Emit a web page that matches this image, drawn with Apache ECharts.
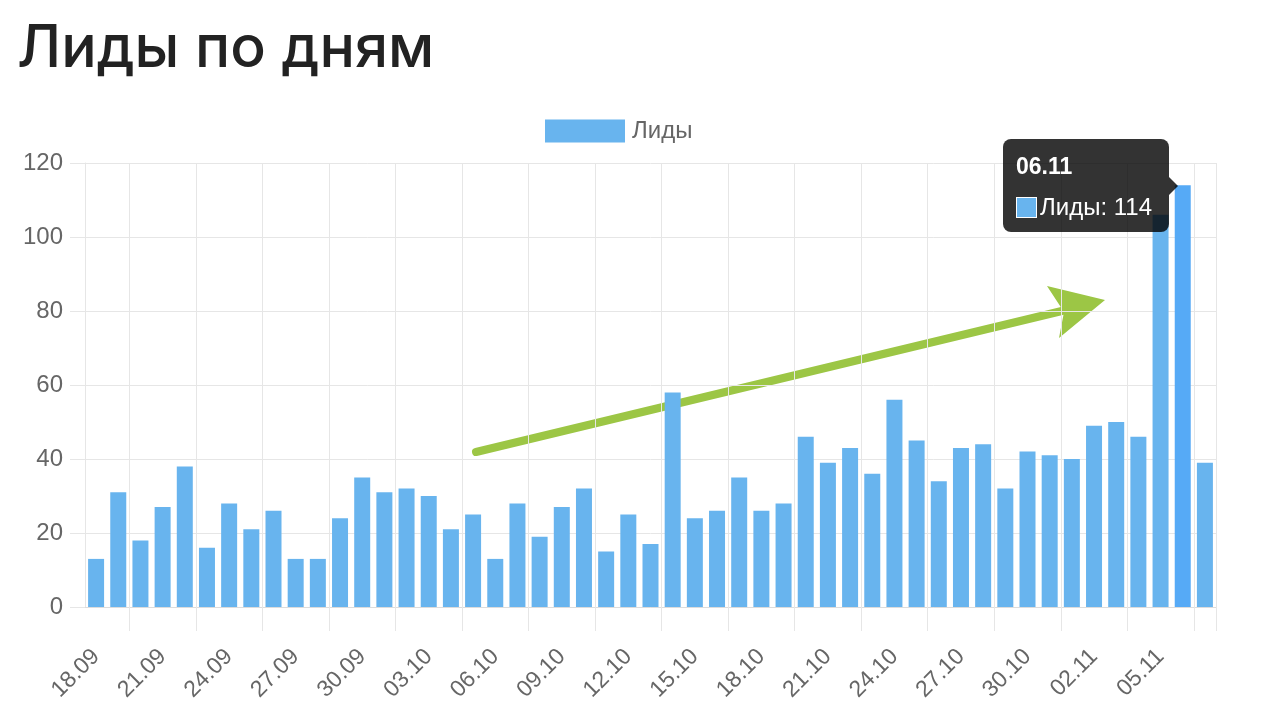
<!DOCTYPE html>
<html>
<head>
<meta charset="utf-8">
<script src="https://cdn.jsdelivr.net/npm/echarts@6/dist/echarts.min.js"></script>
<style>
  html, body { margin: 0; padding: 0; background: #fff; }
  #chart { width: 1262px; height: 712px; }
</style>
</head>
<body>
<div id="chart"></div>
<script>
// даты по оси X
const days = [
  '18.09', '19.09', '20.09', '21.09', '22.09', '23.09', '24.09', '25.09', '26.09', '27.09',
  '28.09', '29.09', '30.09', '01.10', '02.10', '03.10', '04.10', '05.10', '06.10', '07.10',
  '08.10', '09.10', '10.10', '11.10', '12.10', '13.10', '14.10', '15.10', '16.10', '17.10',
  '18.10', '19.10', '20.10', '21.10', '22.10', '23.10', '24.10', '25.10', '26.10', '27.10',
  '28.10', '29.10', '30.10', '31.10', '01.11', '02.11', '03.11', '04.11', '05.11', '06.11',
  '07.11'
];
// лиды за день
const leads = [
  13, 31, 18, 27, 38, 16, 28, 21, 26, 13,
  13, 24, 35, 31, 32, 30, 21, 25, 13, 28,
  19, 27, 32, 15, 25, 17, 58, 24, 26, 35,
  26, 28, 46, 39, 43, 36, 56, 45, 34, 43,
  44, 32, 42, 41, 40, 49, 50, 46, 106, 114,
  39
];
const yTicks = [0, 20, 40, 60, 80, 100, 120];
const activeIndex = 49; // 06.11 под курсором

const gridColor = '#e6e6e6';
const textColor = '#666';
const font = '"Liberation Sans", Arial, sans-serif';
const cssFont = "'Liberation Sans', Arial, sans-serif";

let chart = echarts.init(document.getElementById('chart'));

let option = {
  backgroundColor: '#fff',
  animation: false,
  title: {
    text: 'Лиды по дням',
    left: 12,
    top: 15,
    textStyle: {
      fontFamily: 'Inter, "Noto Sans", sans-serif',
      fontWeight: 500,
      fontSize: 59,
      color: '#222'
    }
  },
  legend: {
    left: 540,
    top: 114,
    icon: 'rect',
    itemWidth: 80,
    itemHeight: 23,
    itemGap: 12,
    selectedMode: false,
    textStyle: { color: textColor, fontSize: 24, fontFamily: font, padding: [0, 0, 0, 2] },
    data: ['Лиды']
  },
  grid: {
    left: 85,
    right: 46,
    top: 163,
    bottom: 105,
    containLabel: false
  },
  tooltip: {
    trigger: 'item',
    triggerOn: 'none',
    alwaysShowContent: true,
    transitionDuration: 0,
    showDelay: 0,
    backgroundColor: 'rgba(0,0,0,0.8)',
    borderWidth: 0,
    padding: [12, 17, 10, 13],
    extraCssText: 'box-shadow:none;border-radius:8px;',
    position: function () {
      return [1003, 139];
    },
    formatter: function (p) {
      return '<div style="font:bold 23px/30px ' + cssFont + ';color:#fff">' + p.name + '</div>' +
        '<div style="font:24px/30px ' + cssFont + ';color:#fff;margin-top:11px;white-space:nowrap">' +
        '<span style="display:inline-block;width:19px;height:19px;background:#68b4ee;border:1px solid #fff;vertical-align:-3px;margin-right:3px"></span>' +
        p.seriesName + ': ' + p.value + '</div>' +
        '<div style="position:absolute;right:-9px;top:38px;width:0;height:0;border-top:9px solid transparent;border-bottom:9px solid transparent;border-left:9px solid rgba(0,0,0,0.8)"></div>';
    }
  },
  xAxis: {
    type: 'category',
    data: days,
    boundaryGap: true,
    axisLine: { show: true, lineStyle: { color: '#dcdcdc', width: 1 } },
    axisTick: {
      show: true,
      length: 24,
      interval: function (i) { return i % 3 === 2; },
      lineStyle: { color: gridColor }
    },
    splitLine: {
      show: true,
      interval: function (i) { return i % 3 === 2; },
      lineStyle: { color: gridColor }
    },
    axisLabel: {
      interval: function (i) { return i % 3 === 0; },
      rotate: 45,
      margin: 46,
      color: textColor,
      fontSize: 23,
      fontFamily: font
    }
  },
  yAxis: {
    type: 'value',
    min: 0,
    max: 120,
    interval: 20,
    axisLine: { show: true, lineStyle: { color: gridColor } },
    axisTick: { show: true, length: 15, lineStyle: { color: gridColor } },
    splitLine: { show: true, lineStyle: { color: gridColor } },
    axisLabel: {
      margin: 22,
      color: textColor,
      fontSize: 24,
      fontFamily: font,
      formatter: function (v) { return yTicks.indexOf(v) >= 0 ? String(v) : ''; }
    }
  },
  series: [{
    name: 'Лиды',
    type: 'bar',
    barWidth: 16,
    data: leads,
    itemStyle: { color: '#68b4ee' },
    emphasis: { focus: 'none', itemStyle: { color: '#56aaf6' } }
  }],
  graphic: [{
    // зелёная стрелка поверх графика
    type: 'group',
    z: 100,
    children: [{
      type: 'line',
      shape: { x1: 476, y1: 452, x2: 1066, y2: 310 },
      style: { stroke: '#9cc645', lineWidth: 8, lineCap: 'round' }
    }, {
      type: 'polygon',
      shape: { points: [[1047, 286], [1105, 300], [1059, 338], [1064, 312]] },
      style: { fill: '#9cc645' }
    }]
  }]
};

chart.setOption(option);
chart.dispatchAction({ type: 'highlight', seriesIndex: 0, dataIndex: activeIndex });
chart.dispatchAction({ type: 'showTip', seriesIndex: 0, dataIndex: activeIndex });
</script>
</body>
</html>
